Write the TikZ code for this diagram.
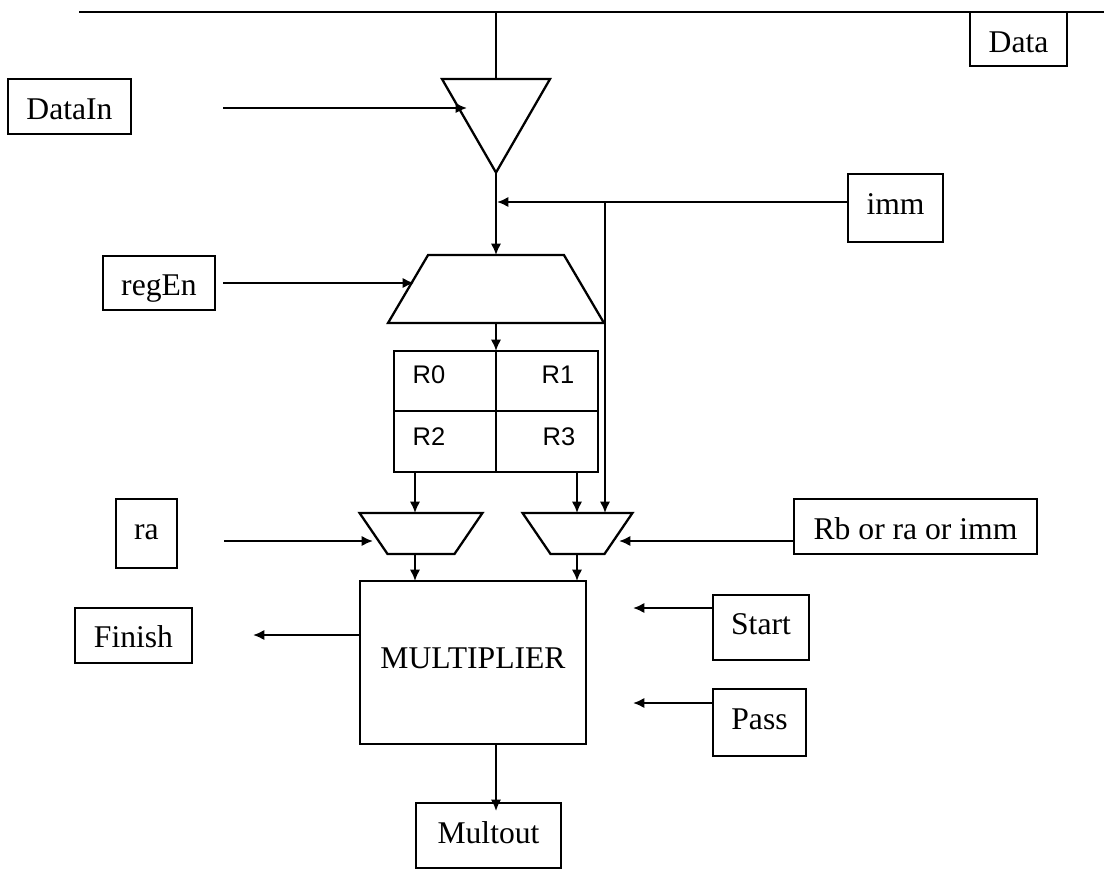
\documentclass[tikz,border=0pt]{standalone}
\usepackage{fontspec}
\setmainfont{Liberation Serif}
\setsansfont{Liberation Sans}
\usetikzlibrary{arrows.meta,shapes.geometric}
\tikzset{
  box/.style n args={3}{draw, inner sep=0pt, outer sep=0pt, minimum width=#1*0.02cm, minimum height=#2*0.02cm, text height=#3*0.02cm, text depth=0pt, font=\fontsize{18}{20}\selectfont},
  mux/.style n args={3}{draw, trapezium, inner xsep=#1*0.01cm, inner ysep=#2*0.01cm, outer sep=0pt, trapezium left angle=#3, trapezium right angle=#3},
  regtext/.style={font=\sffamily\fontsize{14.5}{16}\selectfont, inner sep=0pt}
}
\begin{document}
\begin{tikzpicture}[x=0.02cm, y=-0.02cm, line width=1.3pt, >={Latex[length=6.5pt,width=6pt]}]
    \useasboundingbox (0,0) rectangle (1104,869);
    % bus and tri-state buffer
    \coordinate (busL) at (79,12);
    \coordinate (busR) at (1104,12);
    \coordinate (busTap) at (496,12);
    \draw (busL) -- (busR);
    \node[box={97}{54}{26}] (data) at (1018.5,39) {Data};
    \node[draw, regular polygon, regular polygon sides=3, shape border rotate=180, minimum size=124.7*0.02cm, inner sep=0pt, outer sep=0pt] (buf) at (496,110.2) {};
    \draw (busTap) -- (busTap |- buf.corner 2);
    % control boxes
    \node[box={123}{55}{25}] (dataIn) at (69.5,106.5) {DataIn};
    \node[box={95}{68}{12}] (imm) at (895.5,208) {imm};
    \node[box={112}{54}{24}] (regEn) at (159,283) {regEn};
    \node[box={61}{69}{11}] (ra) at (146.5,533.5) {ra};
    \node[box={243}{55}{25}] (rb) at (915.5,526.5) {Rb or ra or imm};
    \node[box={117}{55}{23}] (finish) at (133.5,635.5) {Finish};
    \node[box={96}{65}{13}] (start) at (761,627.5) {Start};
    \node[box={93}{67}{13}] (pass) at (759.5,722.5) {Pass};
    \node[box={145}{65}{16}] (multout) at (488.5,835.5) {Multout};
    % register mux and registers
    \node[mux={136}{68}{59.5}] (regMux) at (496,289) {};
    \node[box={102}{60}{0}] (cellA) at (445,381) {};
    \node[box={102}{60}{0}] (cellB) at (547,381) {};
    \node[box={102}{61}{0}] (cellC) at (445,441.5) {};
    \node[box={102}{61}{0}] (cellD) at (547,441.5) {};
    \node[regtext] (r0) at (429,375) {R0};
    \node[regtext] (r1) at (558,375) {R1};
    \node[regtext] (r2) at (429,437) {R2};
    \node[regtext] (r3) at (559,437) {R3};
    % operand muxes and multiplier
    \node[mux={67}{41}{124.3}] (muxA) at (421,533.5) {};
    \node[mux={54}{41}{124.3}] (muxB) at (577.5,533.5) {};
    \node[box={226}{163}{11}] (mult) at (473,662.5) {MULTIPLIER};
    % connectors
    \coordinate (dataInOut) at (223,108);
    \coordinate (bufIn) at (467,108);
    \coordinate (immOut) at (848,202);
    \coordinate (immTap) at (605,202);
    \coordinate (wireIn) at (497,202);
    \coordinate (regEnOut) at (223,283);
    \coordinate (regMuxIn) at (414,283);
    \coordinate (regA) at (415,472);
    \coordinate (regB) at (577,472);
    \coordinate (raOut) at (224,541);
    \coordinate (muxAIn) at (373,541);
    \coordinate (rbOut) at (794,541);
    \coordinate (muxBIn) at (619,541);
    \coordinate (finishIn) at (253,635);
    \coordinate (multL) at (360,635);
    \coordinate (startOut) at (713,608);
    \coordinate (startEnd) at (633,608);
    \coordinate (passOut) at (713,703);
    \coordinate (passEnd) at (633,703);
    \coordinate (multB) at (496,744);
    \coordinate (multoutIn) at (496,811);
    \draw[->] (dataInOut) -- (bufIn);
    \draw[->] (buf.corner 1) -- (regMux.north);
    \draw[->] (immOut) -- (wireIn);
    \draw[->] (immTap) -- (immTap |- muxB.north);
    \draw[->] (regEnOut) -- (regMuxIn);
    \draw[->] (regMux.south) -- (regMux.south |- cellA.north);
    \draw[->] (regA) -- (regA |- muxA.north);
    \draw[->] (regB) -- (regB |- muxB.north);
    \draw[->] (raOut) -- (muxAIn);
    \draw[->] (rbOut) -- (muxBIn);
    \draw[->] (regA |- muxA.south) -- (regA |- mult.north);
    \draw[->] (regB |- muxB.south) -- (regB |- mult.north);
    \draw[->] (multL) -- (finishIn);
    \draw[->] (startOut) -- (startEnd);
    \draw[->] (passOut) -- (passEnd);
    \draw[->] (multB) -- (multoutIn);
\end{tikzpicture}
\end{document}
